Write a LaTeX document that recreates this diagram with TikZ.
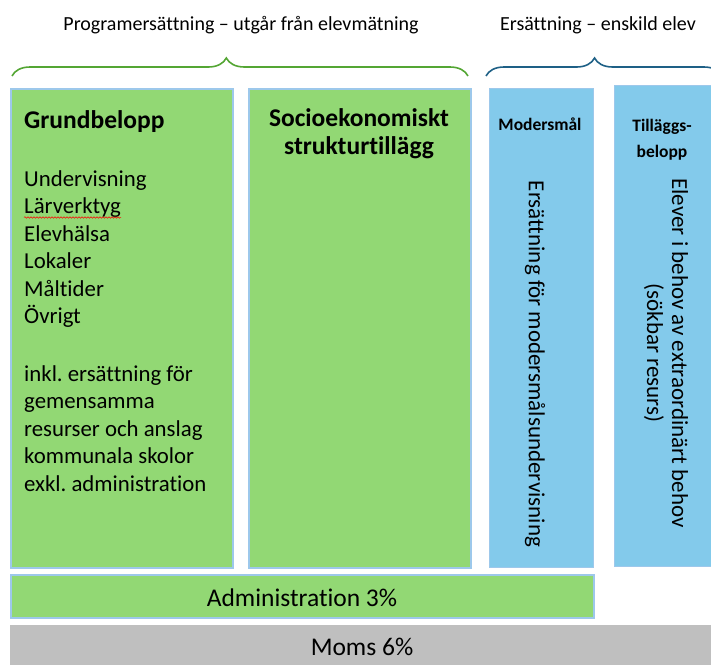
\documentclass[tikz,border=0pt]{standalone}
\usepackage{fontspec}
\setmainfont{Carlito}[Ligatures=NoCommon]
\usetikzlibrary{decorations.pathreplacing,decorations.pathmorphing}
\definecolor{boxgreen}{RGB}{146,216,116}
\definecolor{boxblue}{RGB}{131,202,235}
\definecolor{edgeblue}{RGB}{157,200,235}
\definecolor{boxgray}{RGB}{191,191,191}
\definecolor{bracegreen}{RGB}{84,166,52}
\definecolor{braceblue}{RGB}{30,96,134}
\frenchspacing

\begin{document}
\begin{tikzpicture}[x=1pt,y=-1pt,
    greenbox/.style={draw=edgeblue, line width=1.5pt, fill=boxgreen, inner sep=0pt, anchor=north west},
    bluebox/.style={draw=edgeblue, line width=1pt, fill=boxblue, inner sep=0pt, anchor=north west},
    graybox/.style={fill=boxgray, inner sep=0pt, anchor=north west},
    head/.style={font=\fontsize{20}{24}\selectfont, inner sep=0pt},
    title/.style={font=\fontsize{25.5}{28}\selectfont\bfseries, inner sep=0pt, align=center},
    smalltitle/.style={font=\fontsize{17.5}{26}\selectfont\bfseries, inner sep=0pt, align=center},
    item/.style={font=\fontsize{22.8}{27.5}\selectfont, inner sep=0pt, anchor=base west},
    sidetext/.style={font=\fontsize{23}{25}\selectfont, inner sep=0pt, align=center, rotate=-90},
    bigtext/.style={font=\fontsize{25.5}{30}\selectfont, inner sep=0pt},
    brace/.style={decorate, line width=1.6pt, decoration={brace, amplitude=18pt}}]
  \useasboundingbox (0,0) rectangle (711,664);
  % Boxes
  \node[greenbox, minimum width=222, minimum height=479] (grund) at (10,88) {};
  \node[greenbox, minimum width=222, minimum height=479] (socio) at (248,88) {};
  \node[bluebox, minimum width=104, minimum height=479] (moder) at (489,88) {};
  \node[bluebox, minimum width=102, minimum height=481] (tillagg) at (614,85) {};
  \node[greenbox, minimum width=583, minimum height=43] (admin) at (10,574) {};
  \node[graybox, minimum width=705, minimum height=45] (moms) at (10,625) {};
  % Braces
  \coordinate (pstart) at (12,76);
  \coordinate (pend) at (468,76);
  \coordinate (estart) at (486,76);
  \coordinate (eend) at (722,76);
  \draw[brace, draw=bracegreen, decoration={aspect=0.47}] (pstart) -- (pend);
  \draw[brace, draw=braceblue, decoration={aspect=0.46}] (estart) -- (eend);
  % Headings
  \node[head] (prog) at (241,25) {Programersättning – utgår från elevmätning};
  \node[head] (elev) at (598,25) {Ersättning – enskild elev};
  % Grundbelopp
  \node[title, anchor=base west] (grundtitle) at (24,128) {Grundbelopp};
  \foreach \y/\t [count=\i] in {186/Undervisning, 213.5/Lärverktyg, 241/Elevhälsa,
      268.5/Lokaler, 296/Måltider, 323.5/Övrigt, 381/inkl. ersättning för,
      408.5/gemensamma, 436/resurser och anslag, 463.5/kommunala skolor,
      491/exkl. administration}
    \node[item] (line\i) at (24,\y) {\t};
  \draw[red, line width=0.5pt, decorate,
    decoration={snake, segment length=3pt, amplitude=0.8pt}]
    (line2.base west) ++(0,4) coordinate (wstart) -- (wstart -| line2.base east);
  % Other boxes
  \node[title] (sociotitle) at (359,134) {Socioekonomiskt\\strukturtillägg};
  \node[smalltitle] (modertitle) at (540,124) {Modersmål};
  \node[smalltitle] (tillaggtitle) at (662,140) {Tilläggs-\\belopp};
  \node[sidetext] (modertext) at (535,364) {Ersättning för modersmålsundervisning};
  \node[sidetext] (tillaggtext) at (666,353) {Elever i behov av extraordinärt behov\\(sökbar resurs)};
  \node[bigtext] (admintext) at (302,598) {Administration 3\%};
  \node[bigtext] (momstext) at (362,647) {Moms 6\%};
\end{tikzpicture}
\end{document}
